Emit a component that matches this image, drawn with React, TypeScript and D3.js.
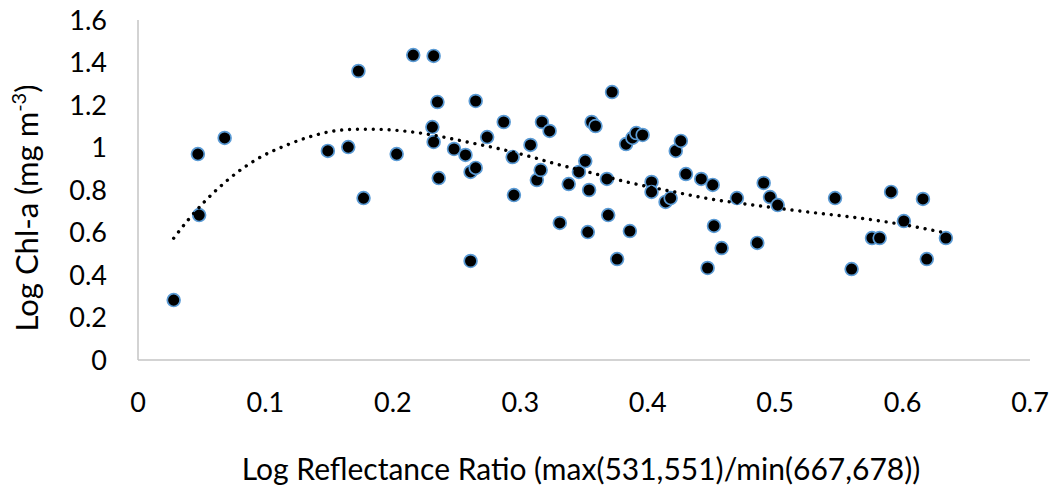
import React from "react";
import * as d3 from "d3";

const xValues = [
  0.028, 0.047, 0.048, 0.068, 0.149, 0.165, 0.173, 0.177, 0.203, 0.216,
  0.232, 0.235, 0.231, 0.232, 0.236, 0.248, 0.257, 0.261, 0.265, 0.265,
  0.261, 0.274, 0.287, 0.294, 0.295, 0.308, 0.313, 0.316, 0.317, 0.323,
  0.331, 0.338, 0.346, 0.351, 0.354, 0.353, 0.356, 0.359, 0.368, 0.369,
  0.372, 0.376, 0.383, 0.386, 0.388, 0.391, 0.396, 0.403, 0.403, 0.414,
  0.418, 0.422, 0.426, 0.430, 0.442, 0.451, 0.452, 0.447, 0.458, 0.470,
  0.486, 0.491, 0.496, 0.502, 0.547, 0.560, 0.576, 0.582, 0.591, 0.601,
  0.616, 0.619, 0.634,
];

const yValues = [
  0.282, 0.969, 0.682, 1.045, 0.984, 1.002, 1.36, 0.762, 0.969, 1.435,
  1.431, 1.214, 1.096, 1.026, 0.856, 0.993, 0.965, 0.885, 0.904, 1.219,
  0.466, 1.049, 1.12, 0.955, 0.776, 1.012, 0.847, 0.894, 1.12, 1.078,
  0.645, 0.828, 0.885, 0.936, 0.8, 0.602, 1.12, 1.101, 0.852, 0.682,
  1.261, 0.475, 1.016, 0.607, 1.045, 1.068, 1.059, 0.838, 0.791, 0.744,
  0.762, 0.984, 1.031, 0.875, 0.852, 0.824, 0.631, 0.433, 0.527, 0.762,
  0.551, 0.833, 0.767, 0.729, 0.762, 0.428, 0.574, 0.574, 0.791, 0.654,
  0.758, 0.475, 0.574,
];

// Trendline (polynomial fit drawn in the reference)
const trendX = [
  0.028, 0.040, 0.053, 0.072, 0.093, 0.117, 0.135, 0.153, 0.173, 0.186,
  0.206, 0.219, 0.237, 0.263, 0.282, 0.308, 0.326, 0.357, 0.382, 0.420,
  0.446, 0.483, 0.509, 0.535, 0.561, 0.588, 0.606, 0.624, 0.632,
];
const trendY = [
  0.573, 0.664, 0.750, 0.855, 0.944, 1.012, 1.051, 1.077, 1.086, 1.086,
  1.079, 1.070, 1.052, 1.020, 0.996, 0.957, 0.926, 0.879, 0.840, 0.792,
  0.761, 0.729, 0.709, 0.690, 0.672, 0.649, 0.631, 0.610, 0.600,
];

const xTicks = [0, 0.1, 0.2, 0.3, 0.4, 0.5, 0.6, 0.7];
const yTicks = [0, 0.2, 0.4, 0.6, 0.8, 1, 1.2, 1.4, 1.6];
const xTitle = "Log Reflectance Ratio (max(531,551)/min(667,678))";

export default function App() {
  const W = 1058;
  const H = 489;
  const x = d3.scaleLinear().domain([0, 0.7]).range([138, 1030]);
  const y = d3.scaleLinear().domain([0, 1.6]).range([360, 20]);
  const trendPts: [number, number][] = trendX.map((v, i) => [v, trendY[i]]);
  const line = d3
    .line<[number, number]>()
    .x((d) => x(d[0]))
    .y((d) => y(d[1]))
    .curve(d3.curveMonotoneX);
  const font = "Lato, 'Open Sans', sans-serif";
  const fmt = (v: number) => String(v);
  return (
    <svg
      width={W}
      height={H}
      style={{ position: "absolute", left: 0, top: 0, background: "#fff" }}
      fontFamily={font}
    >
      <line x1={x(0)} x2={x(0)} y1={y(1.6)} y2={y(0)} stroke="#c4c4c4" strokeWidth={1.5} />
      <line x1={x(0)} x2={x(0.7)} y1={y(0)} y2={y(0)} stroke="#c4c4c4" strokeWidth={1.5} />
      {yTicks.map((t) => (
        <text key={"y" + t} x={107} y={y(t)} dy="0.36em" textAnchor="end" fontSize={27} fill="#000">
          {fmt(t)}
        </text>
      ))}
      {xTicks.map((t) => (
        <text key={"x" + t} x={x(t)} y={412} textAnchor="middle" fontSize={27} fill="#000">
          {fmt(t)}
        </text>
      ))}
      <text x={581} y={480} textAnchor="middle" fontSize={30} fill="#000">
        {xTitle}
      </text>
      <text
        transform="translate(38,208) rotate(-90)"
        textAnchor="middle"
        fontSize={31}
        fill="#000"
      >
        <tspan>Log Chl-a (mg m</tspan>
        <tspan fontSize={20} dy={-12}>-3</tspan>
        <tspan dy={12}>)</tspan>
      </text>
      {xValues.map((xv, i) => (
        <circle
          key={i}
          cx={x(xv)}
          cy={y(yValues[i])}
          r={6.4}
          fill="#000"
          stroke="#5b9bd5"
          strokeWidth={1.7}
        />
      ))}
      <path
        d={line(trendPts) || ""}
        fill="none"
        stroke="#000"
        strokeWidth={3.4}
        strokeLinecap="round"
        strokeDasharray="0.01 7.9"
      />
    </svg>
  );
}
